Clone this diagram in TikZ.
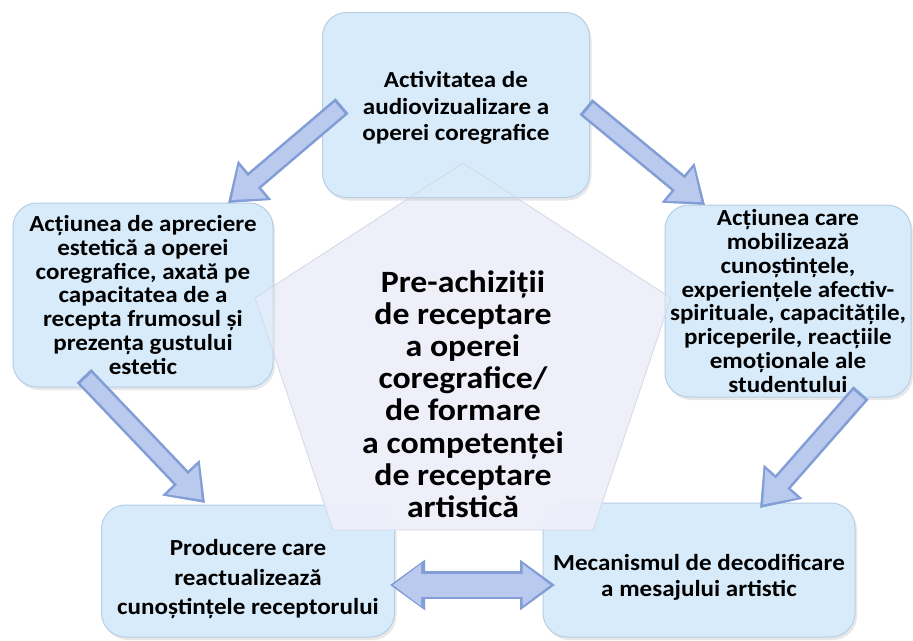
\documentclass[tikz,border=0pt]{standalone}
\usepackage{fontspec}
\setmainfont{Carlito}[FakeStretch=1.09]
\usepackage{tikz}
\usetikzlibrary{arrows.meta,fadings,shadows}

\definecolor{boxfill}{RGB}{216,235,250}
\definecolor{boxedge}{RGB}{182,206,230}
\definecolor{pentfill}{RGB}{238,239,249}
\definecolor{pentedge}{RGB}{212,215,230}
\definecolor{arrowfill}{RGB}{186,201,238}
\definecolor{arrowedge}{RGB}{130,158,214}
\definecolor{arrowshade}{RGB}{105,115,150}

\tikzfading[name=pentfade, top color=transparent!100, middle color=transparent!30, bottom color=transparent!0]

\tikzset{
	stepbox/.style={draw=boxedge, line width=1pt, fill=boxfill, rounded corners=24pt, align=center,
		drop shadow={opacity=0.18, shadow xshift=2pt, shadow yshift=-3pt}},
	boxtext/.style={font=\bfseries\fontsize{23}{#1}\selectfont},
}

\newcommand{\blockarrow}[6][->] % [tips]{start}{end}{shaft}{head length}{head width}
{
	\pgfmathsetmacro{\innershaft}{#4-5}
	\pgfmathsetmacro{\innerlen}{#5-7}
	\pgfmathsetmacro{\innerwid}{#6-8}
	\draw [#1, arrowshade, opacity=0.45, line width=#4pt, >={Triangle[length=#5pt 0 0, width=#6pt 0 0]}, shift={(3,3)}] (#2) -- (#3);
	\draw [#1, arrowedge, line width=#4pt, >={Triangle[length=#5pt 0 0, width=#6pt 0 0]}] (#2) -- (#3);
	\draw [#1, arrowfill, line width=\innershaft pt, >={Triangle[length=\innerlen pt 0 0, width=\innerwid pt 0 0]}, shorten >=4.5pt, shorten <=3pt] (#2) -- (#3);
}

\begin{document}
\begin{tikzpicture}[x=1pt, y=-1pt]
	\useasboundingbox (0,0) rectangle (913,640);

	\coordinate (p1) at (463,163);
	\coordinate (p2) at (255,298);
	\coordinate (p3) at (671,298);
	\coordinate (p4) at (333,530);
	\coordinate (p5) at (593,530);
	\fill[pentfill] (p1) -- (p2) -- (p4) -- (p5) -- (p3) -- cycle;

	\node[stepbox, minimum width=267pt, minimum height=185pt, boxtext=26.5] (audio) at (456,105) {\rule{0pt}{22.5pt}Activitatea de\\audiovizualizare a\\operei coregrafice};
	\node[stepbox, minimum width=260pt, minimum height=184pt, boxtext=23.7] (apreciere) at (143,295) {Acțiunea de apreciere\\estetică a operei\\coregrafice, axată pe\\capacitatea de a\\recepta frumosul și\\prezența gustului\\estetic};
	\node[stepbox, minimum width=246pt, minimum height=192pt, boxtext=23.9] (mobilizare) at (788,301) {Acțiunea care\\mobilizează\\cunoștințele,\\experiențele afectiv-\\spirituale, capacitățile,\\priceperile, reacțiile\\emoționale ale\\studentului};
	\node[stepbox, minimum width=293pt, minimum height=132pt, boxtext=29.5] (producere) at (248,571) {\rule{0pt}{32.5pt}Producere care\\reactualizează\\cunoștințele receptorului};
	\node[stepbox, minimum width=312pt, minimum height=134pt, boxtext=26] (mecanism) at (699,570) {\rule{0pt}{30.5pt}Mecanismul de decodificare\\a mesajului artistic};

	\fill[pentfill, path fading=pentfade] (p1) -- (p2) -- (p4) -- (p5) -- (p3) -- cycle;
	\draw[pentedge, line width=0.8pt] (p1) -- (p2) -- (p4) -- (p5) -- (p3) -- cycle;
	\node[align=center, font=\bfseries\fontsize{31}{32.2}\selectfont] (core) at (463,394) {Pre-achiziții\\de receptare\\a operei\\coregrafice/\\de formare\\a competenței\\de receptare\\artistică};

	\coordinate (a1s) at (342,106);
	\coordinate (a1e) at (228,203);
	\coordinate (a2s) at (586,107);
	\coordinate (a2e) at (705,205);
	\coordinate (a3s) at (84,376);
	\coordinate (a3e) at (205,503);
	\coordinate (a4s) at (861,393);
	\coordinate (a4e) at (760,508);
	\coordinate (a5s) at (390,585);
	\coordinate (a5e) at (555,585);

	\blockarrow{a1s}{a1e}{20}{35}{49}
	\blockarrow{a2s}{a2e}{20}{35}{49}
	\blockarrow{a3s}{a3e}{20}{35}{49}
	\blockarrow{a4s}{a4e}{20}{35}{49}
	\blockarrow[<->]{a5s}{a5e}{28}{35}{48}
\end{tikzpicture}
\end{document}
